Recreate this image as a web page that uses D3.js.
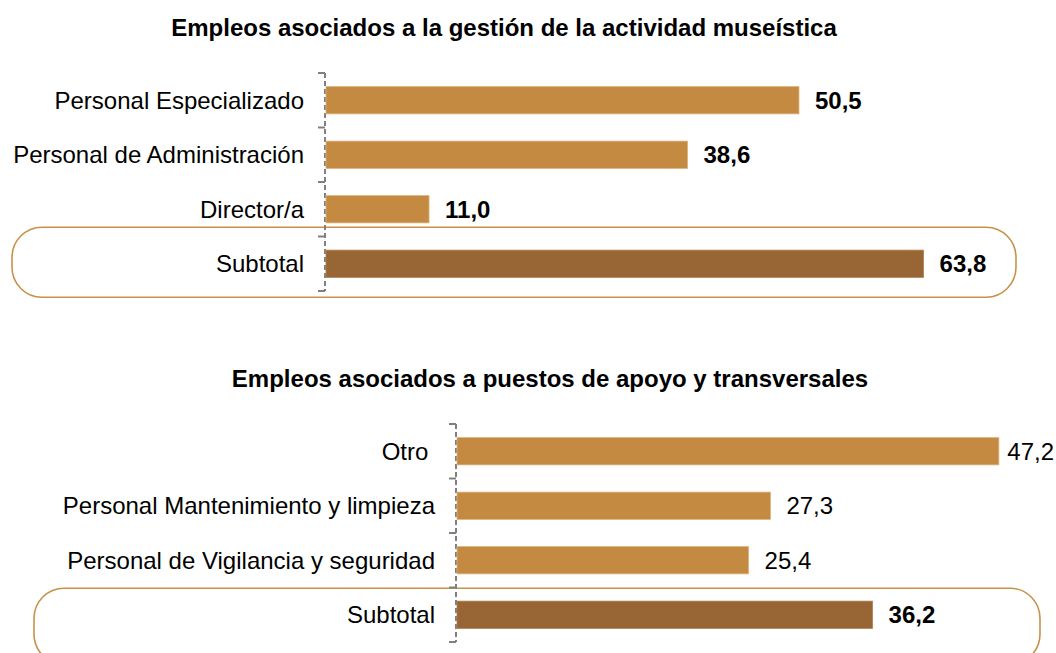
<!DOCTYPE html>
<html lang="es">
<head>
<meta charset="utf-8">
<script src="https://cdn.jsdelivr.net/npm/d3@7/dist/d3.min.js"></script>
<style>
  html, body { margin: 0; padding: 0; background: #fff; }
  svg { display: block; font-family: "Liberation Sans", Arial, sans-serif; }
</style>
</head>
<body>
<svg id="chart" width="1056" height="653"></svg>
<script>
// Empleos en museos: dos bloques de barras horizontales (%)
const gestionTitle = "Empleos asociados a la gestión de la actividad museística";
const gestionCategories = ["Personal Especializado", "Personal de Administración", "Director/a", "Subtotal"];
const gestionValues = [50.5, 38.6, 11.0, 63.8];

const apoyoTitle = "Empleos asociados a puestos de apoyo y transversales";
const apoyoCategories = ["Otro ", "Personal Mantenimiento y limpieza", "Personal de Vigilancia y seguridad", "Subtotal"];
const apoyoValues = [47.2, 27.3, 25.4, 36.2];

const W = 1056, H = 653;
const colorBar = "#C48A41";
const colorTotal = "#986634";
const colorFrame = "#C8914A";
const fmt = v => d3.format(".1f")(v).replace(".", ",");

const svg = d3.select("#chart");

function drawBlock(cfg) {
  const g = svg.append("g");
  const data = cfg.categories.map((c, i) => ({ cat: c, value: cfg.values[i], total: c.trim() === "Subtotal" }));

  const x = d3.scaleLinear().domain(cfg.xDomain).range(cfg.xRange);
  const y = d3.scaleBand().domain(cfg.categories).range(cfg.yRange).paddingInner(0.5).paddingOuter(0.25);

  // título del bloque
  g.append("text")
    .attr("x", cfg.titleX).attr("y", cfg.titleY)
    .attr("text-anchor", "middle")
    .attr("font-size", 24).attr("font-weight", "bold").attr("fill", "#000")
    .text(cfg.title);

  // marco redondeado alrededor del subtotal
  const totCenter = y("Subtotal") + y.bandwidth() / 2;
  g.append("rect")
    .attr("x", cfg.frameX0).attr("y", totCenter + cfg.frameDy)
    .attr("width", cfg.frameX1 - cfg.frameX0).attr("height", cfg.frameH)
    .attr("rx", 30).attr("ry", 30)
    .attr("fill", "none").attr("stroke", colorFrame).attr("stroke-width", 1.6);

  // eje de categorías: línea discontinua con marcas entre bandas
  const axisX = x(0) - 1;
  const [y0, y1] = y.range();
  g.append("line")
    .attr("x1", axisX).attr("x2", axisX).attr("y1", y0).attr("y2", y1)
    .attr("stroke", "#808080").attr("stroke-width", 2).attr("stroke-dasharray", "5,3");
  const bounds = d3.range(cfg.categories.length + 1).map(i => y0 + i * y.step());
  g.selectAll(".tick").data(bounds).join("line")
    .attr("x1", axisX - 7).attr("x2", axisX).attr("y1", d => d).attr("y2", d => d)
    .attr("stroke", "#808080").attr("stroke-width", 2);

  // etiquetas de categoría
  g.selectAll(".cat").data(data).join("text")
    .attr("x", axisX - 21)
    .attr("y", d => y(d.cat) + y.bandwidth() / 2)
    .attr("dy", "0.36em")
    .attr("text-anchor", "end")
    .attr("font-size", 24).attr("fill", "#000")
    .style("white-space", "pre")
    .text(d => d.cat);

  // barras
  g.selectAll(".bar").data(data).join("rect")
    .attr("x", x(0))
    .attr("y", d => y(d.cat))
    .attr("width", d => x(d.value) - x(0))
    .attr("height", y.bandwidth())
    .attr("fill", d => d.total ? colorTotal : colorBar)
    .attr("stroke", d => d.total ? "#b08050" : "#dcb27c").attr("stroke-width", 0.8);

  // valores
  g.selectAll(".val").data(data).join("text")
    .attr("y", d => y(d.cat) + y.bandwidth() / 2)
    .attr("dy", "0.36em")
    .attr("font-size", 24)
    .attr("font-weight", d => (cfg.allBold || d.total) ? "bold" : "normal")
    .attr("fill", "#000")
    .text(d => fmt(d.value))
    .attr("x", function (d) {
      const w = this.getComputedTextLength();
      return Math.min(x(d.value) + 16, W - 2 - w);
    });
}

drawBlock({
  title: gestionTitle, titleX: 504, titleY: 36,
  categories: gestionCategories, values: gestionValues,
  xDomain: [0, 70], xRange: [326, 326 + 70 * 9.366],
  yRange: [73, 291],
  frameX0: 12, frameX1: 1016, frameDy: -36.5, frameH: 70,
  allBold: true
});

drawBlock({
  title: apoyoTitle, titleX: 550, titleY: 387,
  categories: apoyoCategories, values: apoyoValues,
  xDomain: [0, 50], xRange: [457, 457 + 50 * 11.48],
  yRange: [424, 642],
  frameX0: 34, frameX1: 1040, frameDy: -26.5, frameH: 76,
  allBold: false
});
</script>
</body>
</html>
